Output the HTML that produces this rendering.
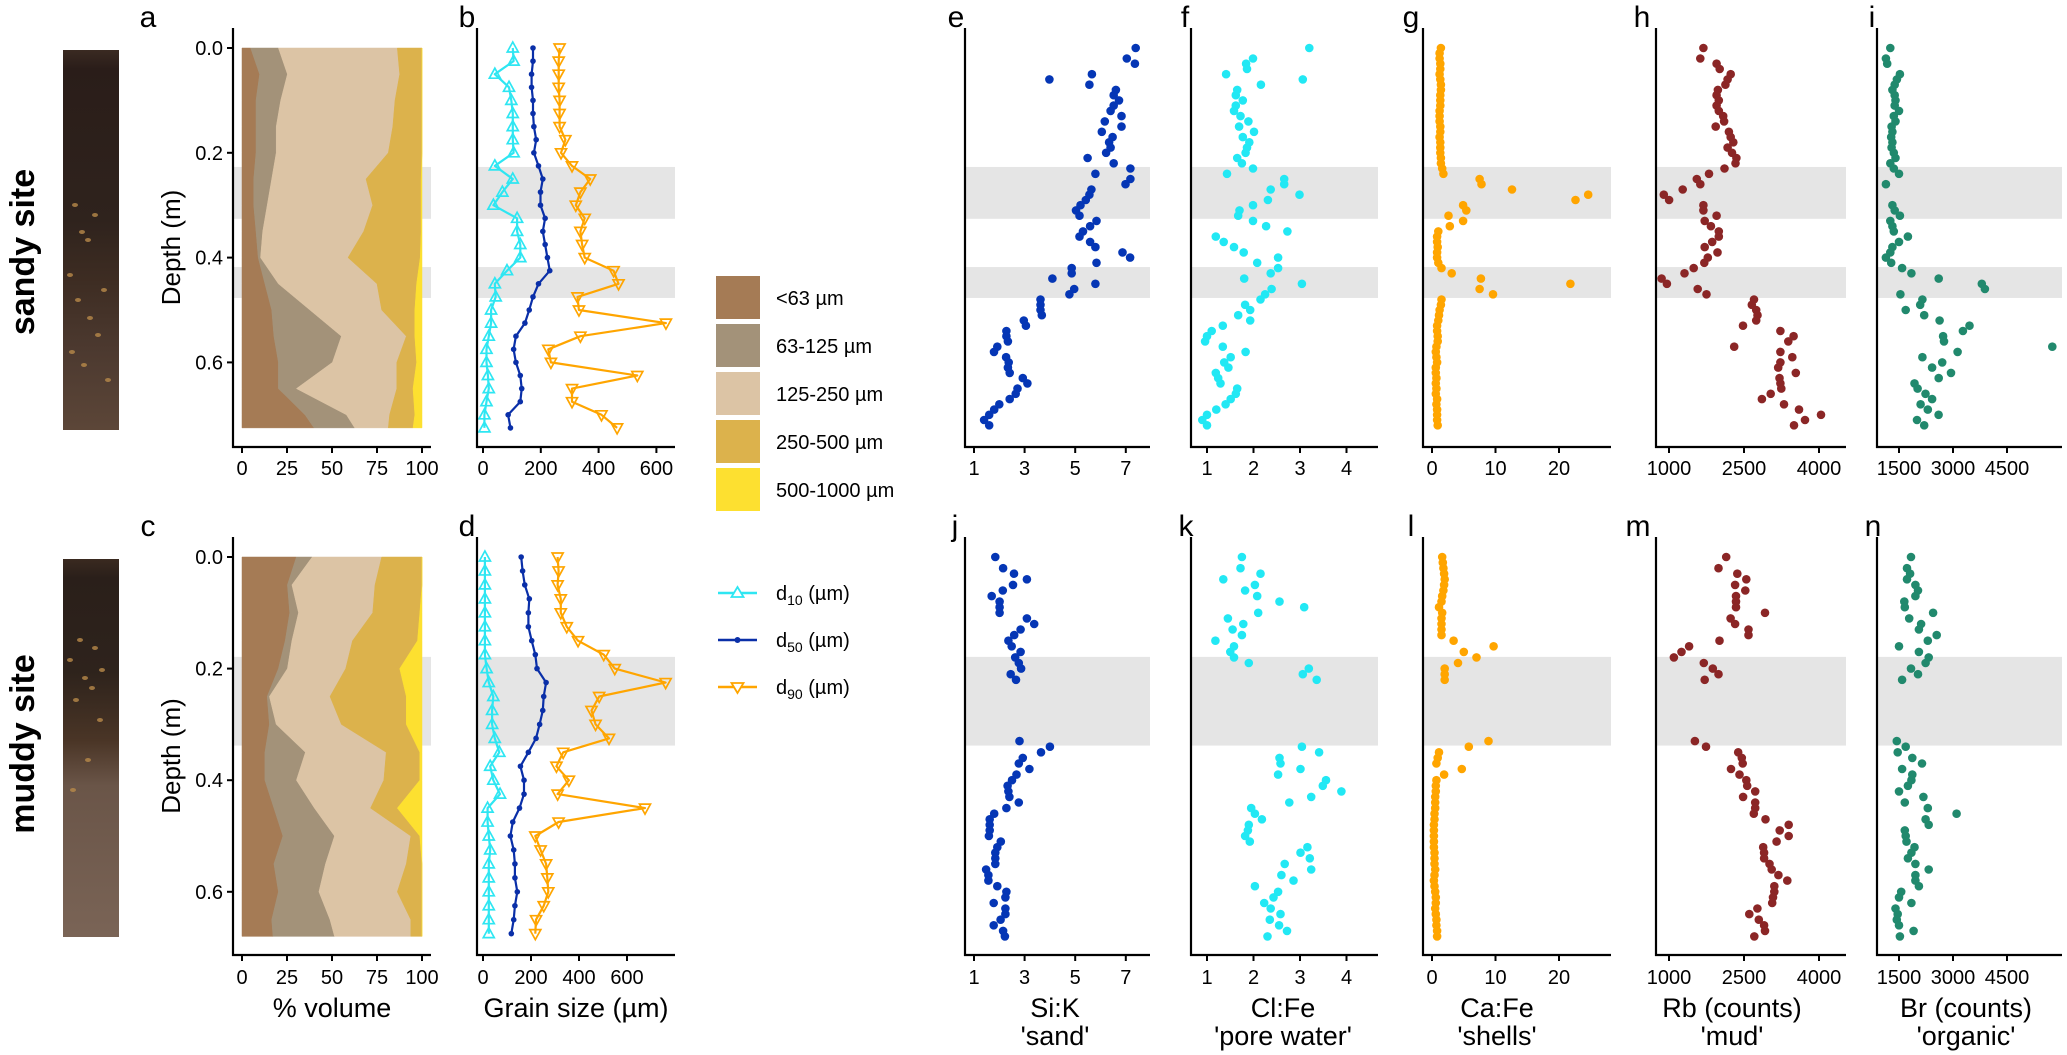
<!DOCTYPE html>
<html><head><meta charset="utf-8"><title>Sediment core figure</title>
<style>
html,body{margin:0;padding:0;background:#fff;}
svg{display:block;font-family:"Liberation Sans",Arial,sans-serif;}
</style></head>
<body>
<svg id="fig" width="2067" height="1055" viewBox="0 0 2067 1055" xmlns="http://www.w3.org/2000/svg">
<defs>
<linearGradient id="coreTop" x1="0" y1="0" x2="0" y2="1">
<stop offset="0" stop-color="#3a2a22"/><stop offset="0.05" stop-color="#2a1d19"/><stop offset="0.45" stop-color="#2f231d"/><stop offset="0.6" stop-color="#3d2c22"/><stop offset="0.8" stop-color="#4d3a30"/><stop offset="1" stop-color="#5c4638"/>
</linearGradient>
<linearGradient id="coreBot" x1="0" y1="0" x2="0" y2="1">
<stop offset="0" stop-color="#3a2a20"/><stop offset="0.05" stop-color="#2a1f1a"/><stop offset="0.3" stop-color="#2e231c"/><stop offset="0.48" stop-color="#4a3526"/><stop offset="0.6" stop-color="#6a5548"/><stop offset="1" stop-color="#7a6456"/>
</linearGradient>
</defs>
<rect x="0" y="0" width="2067" height="1055" fill="#fff"/>
<rect x="63" y="50" width="56" height="380" fill="url(#coreTop)"/>
<rect x="63" y="559" width="56" height="378" fill="url(#coreBot)"/>
<g><text x="34" y="252" transform="rotate(-90 34 252)" text-anchor="middle" font-size="34" font-weight="bold">sandy site</text></g>
<g><text x="34" y="744" transform="rotate(-90 34 744)" text-anchor="middle" font-size="34" font-weight="bold">muddy site</text></g>
<g id="plots"></g>
<g font-size="20">
<rect x="716" y="276" width="44" height="43" fill="#a57b55"/>
<text x="776" y="305">&lt;63 µm</text>
<rect x="716" y="324" width="44" height="43" fill="#a39279"/>
<text x="776" y="353">63-125 µm</text>
<rect x="716" y="372" width="44" height="43" fill="#dcc4a5"/>
<text x="776" y="401">125-250 µm</text>
<rect x="716" y="420" width="44" height="43" fill="#dcb24c"/>
<text x="776" y="449">250-500 µm</text>
<rect x="716" y="468" width="44" height="43" fill="#fde030"/>
<text x="776" y="497">500-1000 µm</text>
<line x1="718" y1="593" x2="757" y2="593" stroke="#2ee6f2" stroke-width="2.5"/>
<polygon points="737.5,587 731.5,597 743.5,597" fill="#fff" stroke="#2ee6f2" stroke-width="1.8"/>
<text x="776" y="600">d<tspan font-size="14" dy="5">10</tspan><tspan dy="-5"> (µm)</tspan></text>
<line x1="718" y1="640" x2="757" y2="640" stroke="#0a2fa8" stroke-width="2.5"/>
<circle cx="737.5" cy="640" r="3" fill="#0a2fa8"/>
<text x="776" y="647">d<tspan font-size="14" dy="5">50</tspan><tspan dy="-5"> (µm)</tspan></text>
<line x1="718" y1="687" x2="757" y2="687" stroke="#ffa500" stroke-width="2.5"/>
<polygon points="737.5,693 731.5,683 743.5,683" fill="#fff" stroke="#ffa500" stroke-width="1.8"/>
<text x="776" y="694">d<tspan font-size="14" dy="5">90</tspan><tspan dy="-5"> (µm)</tspan></text>
</g>
</svg>
<script>
// ---------- data ----------
const topDepth=[0,0.01,0.02,0.03,0.04,0.05,0.06,0.07,0.08,0.09,0.10,0.11,0.12,0.13,0.14,0.15,0.16,0.17,0.18,0.19,0.20,0.21,0.22,0.23,0.24,0.25,0.26,0.27,0.28,0.29,0.30,0.31,0.32,0.33,0.34,0.35,0.36,0.37,0.38,0.39,0.40,0.41,0.42,0.43,0.44,0.45,0.46,0.47,0.48,0.49,0.50,0.51,0.52,0.53,0.54,0.55,0.56,0.57,0.58,0.59,0.60,0.61,0.62,0.63,0.64,0.65,0.66,0.67,0.68,0.69,0.70,0.71,0.72];
const botDepth=[0,0.01,0.02,0.03,0.04,0.05,0.06,0.07,0.08,0.09,0.10,0.11,0.12,0.13,0.14,0.15,0.16,0.17,0.18,0.19,0.20,0.21,0.22,0.23,0.24,0.25,0.26,0.27,0.28,0.29,0.30,0.31,0.32,0.33,0.34,0.35,0.36,0.37,0.38,0.39,0.40,0.41,0.42,0.43,0.44,0.45,0.46,0.47,0.48,0.49,0.50,0.51,0.52,0.53,0.54,0.55,0.56,0.57,0.58,0.59,0.60,0.61,0.62,0.63,0.64,0.65,0.66,0.67,0.68];

const siKTop=[7.39,null,7.04,7.36,null,5.66,3.98,5.56,6.61,6.52,6.73,6.52,6.40,6.83,6.17,6.83,6.05,6.48,6.34,6.40,6.22,5.49,6.52,7.18,5.80,7.18,6.99,5.64,5.56,5.42,5.21,5.03,5.17,5.84,5.59,5.31,5.17,5.59,5.80,6.87,7.17,5.84,4.86,4.86,4.10,5.80,4.96,4.77,3.63,3.63,3.63,3.68,2.97,3.05,2.28,2.28,2.34,1.92,1.79,2.27,2.37,2.34,2.41,2.93,3.11,2.72,2.65,2.41,2.0,1.8,1.6,1.4,1.6];
const clFeTop=[3.20,null,1.99,1.84,1.86,1.41,3.06,2.16,1.65,1.62,1.77,1.62,1.58,1.72,1.89,1.69,2.01,1.77,1.91,1.86,1.83,1.65,1.75,1.99,1.43,2.66,2.66,2.37,2.99,2.31,1.99,1.70,1.67,1.99,2.27,2.73,1.19,1.36,1.58,1.79,2.53,2.08,2.53,2.37,1.80,3.04,2.39,2.25,2.15,1.82,1.93,1.67,1.93,1.34,1.10,1.00,0.96,1.34,1.83,1.51,1.37,1.46,1.19,1.24,1.29,1.65,1.62,1.51,1.4,1.2,1.0,0.9,1.0];
const caFeTop=[1.4,1.2,1.2,1.3,1.3,1.2,1.3,1.4,1.4,1.3,1.3,1.3,1.2,1.2,1.2,1.3,1.3,1.2,1.3,1.3,1.3,1.4,1.4,1.6,1.8,7.5,7.8,12.6,24.6,22.6,4.9,5.4,2.6,4.9,2.8,1.0,0.8,0.8,0.9,0.8,0.8,1.0,1.5,3.1,7.7,21.8,7.5,9.6,1.5,1.4,1.2,1.1,1.0,0.8,0.8,0.9,0.9,0.7,0.6,0.7,0.8,0.6,0.6,0.7,0.6,0.7,0.6,0.8,0.7,0.8,0.8,0.8,0.9];
const rbTop=[1688,null,1626,1952,2014,2234,2172,2128,1978,1952,1996,1952,1996,2084,2102,1934,2198,2234,2286,2172,2260,2348,2330,2110,1800,1556,1626,1274,896,1002,1688,1688,1952,1714,1838,1996,1996,1864,1714,1970,1776,1706,1494,1310,852,958,1574,1750,2700,2656,2744,2770,2744,2480,3228,3492,3386,2304,3228,3466,3228,3184,3536,3210,3228,3246,3034,2858,3300,3600,4040,3720,3500];
const brTop=[1257,null,1135,1171,null,1526,1441,1380,1318,1380,1404,1380,1501,1355,1404,1294,1318,1282,1318,1294,1355,1404,1257,1355,1501,null,1135,null,null,null,1318,1380,1526,1257,1318,1355,1746,1501,1318,1257,1135,1282,1587,1844,2602,3801,3887,1538,2150,2089,1685,2199,2627,3458,3275,2724,2749,5758,3128,2150,2700,2419,2945,2602,1930,2016,2236,2419,2100,2300,2600,2000,2200];

const siKBot=[1.84,null,2.15,2.58,3.09,2.54,2.14,1.70,2.01,2.01,2.01,3.09,3.38,2.84,2.59,2.36,2.49,2.84,2.63,2.77,2.86,2.45,2.66,null,null,null,null,null,null,null,null,null,null,2.80,4.00,3.65,2.93,2.77,3.19,2.68,2.50,2.33,2.36,2.40,2.77,2.28,1.80,1.62,1.62,1.62,1.59,2.06,1.92,1.84,1.84,1.84,1.48,1.57,1.57,1.92,2.28,2.24,1.78,2.24,2.24,2.05,1.78,2.15,2.22];
const clFeBot=[1.75,null,1.72,2.15,1.35,2.03,1.82,2.08,2.56,3.09,2.10,1.45,1.78,1.55,1.75,1.18,1.58,1.50,1.58,1.90,3.19,3.06,3.36,null,null,null,null,null,null,null,null,null,null,null,3.04,3.41,2.56,2.58,3.01,2.53,3.56,3.49,3.89,3.24,2.77,1.95,2.03,2.18,1.90,1.88,1.82,1.92,3.16,3.01,3.21,2.67,3.24,2.60,2.86,2.03,2.53,2.43,2.23,2.37,2.58,2.35,2.55,2.72,2.30];
const caFeBot=[1.6,1.7,1.8,1.9,2.0,1.9,1.8,1.6,1.5,1.1,1.6,1.5,1.5,1.5,1.5,3.4,9.7,5.0,7.0,4.1,2.0,2.0,2.0,null,null,null,null,null,null,null,null,null,null,8.9,5.8,1.1,0.9,0.7,4.7,1.9,0.7,0.6,0.6,0.5,0.5,0.5,0.4,0.4,0.3,0.3,0.3,0.3,0.3,0.4,0.4,0.4,0.5,0.4,0.3,0.4,0.5,0.6,0.6,0.5,0.6,0.7,0.7,0.8,0.8];
const rbBot=[2143,null,1991,2366,2545,2322,2527,2340,2340,2340,2920,2232,2322,2590,2590,2009,1402,1250,1098,1697,1875,1991,1714,null,null,null,null,null,null,null,null,null,null,1518,1741,2384,2456,2473,2241,2411,2545,2563,2724,2482,2724,2724,2697,2929,3393,3214,3393,3152,2884,2902,2902,3009,3054,3188,3366,3107,3107,3081,3063,2768,2607,2795,2902,2920,2706];
const brBot=[1832,null,1721,1808,1721,1955,2029,1955,1648,1660,2447,1783,2115,2054,2546,2300,1500,2054,2324,2238,1832,2029,1586,null,null,null,null,null,null,null,null,null,null,1439,1685,1463,1869,2140,1586,1869,1844,1746,1500,2177,1660,2300,3099,2238,2324,1660,1685,1709,1931,1844,1746,1955,2324,1955,1955,2054,1562,1500,1844,1402,1463,1439,1500,1906,1525];

const grainDepthTop=[0,0.025,0.05,0.075,0.1,0.125,0.15,0.175,0.2,0.225,0.25,0.275,0.3,0.325,0.35,0.375,0.4,0.425,0.45,0.475,0.5,0.525,0.55,0.575,0.6,0.625,0.65,0.675,0.7,0.725];
const d10Top=[103,106,41,90,98,103,103,103,106,41,103,67,36,118,118,129,129,83,41,44,28,28,20,12,12,17,20,12,5,5];
const d50Top=[173,173,168,168,173,173,176,184,176,192,207,199,199,215,207,215,223,231,192,173,160,145,114,106,114,129,134,129,87,95];
const d90Top=[265,262,262,262,265,265,265,285,270,308,371,337,321,352,337,343,352,452,469,327,332,633,337,226,235,534,308,308,410,464];
const grainDepthBot=[0,0.025,0.05,0.075,0.1,0.125,0.15,0.175,0.2,0.225,0.25,0.275,0.3,0.325,0.35,0.375,0.4,0.425,0.45,0.475,0.5,0.525,0.55,0.575,0.6,0.625,0.65,0.675];
const d10Bot=[8,8,8,8,8,8,8,8,15,24,43,38,38,49,68,30,43,71,19,19,24,30,24,24,24,24,24,24];
const d50Bot=[159,165,174,193,189,189,203,218,225,263,253,249,236,221,189,156,171,171,152,124,114,128,133,133,143,133,128,118];
const d90Bot=[311,315,311,324,324,349,396,503,549,761,484,452,469,525,334,306,358,311,675,315,218,240,263,268,272,253,221,218];

const areaDepthTop=[0,0.05,0.1,0.15,0.2,0.25,0.3,0.35,0.4,0.45,0.5,0.55,0.6,0.65,0.7,0.725];
const lt63Top=[4.8,9.8,7.8,7.8,7.8,6.5,6.5,7.8,9,12.7,16.5,17.7,20.2,20.2,35,40];
const c63Top=[15.4,15.4,13.7,11.2,11.2,10,7.5,3.7,1.3,7.5,21.2,37.5,30,10,23,22.6];
const c125Top=[66.1,62.4,63.5,64.8,62.3,52.4,58.6,56.1,48.6,54.8,39.9,36.1,35.8,55.8,24,18.7];
const c250Top=[13.7,12.4,15,16.2,18.7,30.6,26.9,31.9,40.1,22,18.4,4.7,11,9,14,13.7];
const c500Top=[0,0,0,0,0,0.5,0.5,0.5,1,3,4,4,3,5,4,5];
const areaDepthBot=[0,0.05,0.1,0.15,0.2,0.25,0.3,0.35,0.4,0.45,0.5,0.55,0.6,0.65,0.68];
const lt63Bot=[30.2,25.2,26.5,24,20.2,14,15.2,12.7,12.7,17.7,22.7,17.7,20.2,16.5,17.2];
const c63Bot=[8.8,2.5,4.9,3.7,5,1.2,3.8,22.5,17.5,22.5,28.7,28.7,22.5,32.4,34.2];
const c125Bot=[38.6,46.2,41.2,33.7,32.4,33.7,36.2,44.9,48.6,31.2,42.4,44.9,43.6,44.9,42.4];
const c250Bot=[22.4,26.1,26.2,36.1,30,42.4,36.1,18.7,20,14.9,5,8.7,13.7,6.2,6.2];
const c500Bot=[0,0,1.2,2.5,12.4,8.7,8.7,1.2,1.2,13.7,1.2,0,0,0,0];

const ticksDepth=[0,0.2,0.4,0.6];
const tickLabelsDepth=["0.0","0.2","0.4","0.6"];
const ticksPct=[0,25,50,75,100];
const ticksGrain=[0,200,400,600];
const ticksSiK=[1,3,5,7];
const ticksClFe=[1,2,3,4];
const ticksCaFe=[0,10,20];
const ticksRb=[1000,2500,4000];
const ticksBr=[1500,3000,4500];
const bandsTop=[[0.227,0.326],[0.418,0.477]];
const bandsBot=[[0.179,0.338]];

// ---------- layout ----------
const NS="http://www.w3.org/2000/svg";
const root=document.getElementById("plots");
function mk(tag,attrs,parent){const e=document.createElementNS(NS,tag);for(const k in attrs)e.setAttribute(k,attrs[k]);(parent||root).appendChild(e);return e;}
const rows={
 top:{axisTop:28,axisY:447,d0:48,k:524,labY:475,bands:bandsTop},
 bot:{axisTop:537,axisY:955,d0:557,k:558,labY:984,bands:bandsBot}
};
function yScale(row,d){return row.d0+d*row.k;}
function makeX(axisX,endX,v0,x0,k){return {axisX,endX,f:v=>x0+(v-v0)*k};}
const cols={
 a:makeX(233,431,0,242,1.8),
 b:makeX(477,675,0,483,0.289),
 d:makeX(477,675,0,483,0.24),
 e:makeX(965,1150,1,974,25.3),
 f:makeX(1191,1378,1,1207,46.5),
 g:makeX(1423,1611,0,1432,6.35),
 h:makeX(1656,1846,1000,1669,0.05),
 i:makeX(1877,2062,1500,1899,0.036)
};

function frame(name,col,row,ticks,tickLabels,letter,letterX,title1,title2,titleX,depthAxis){
 const g=mk("g",{});
 
 
 row.bands.forEach(b=>{
  const r=mk("rect",{x:col.axisX+1,y:yScale(row,b[0]),width:col.endX-col.axisX-1,height:yScale(row,b[1])-yScale(row,b[0]),fill:"#e5e5e5"},g);
  
  
 });
 const lt=mk("text",{x:letterX,y:row.axisTop-1,"font-size":30,"text-anchor":"middle"},g);
 lt.textContent=letter;
 
 
 if(title1){
  const t1=mk("text",{x:titleX,y:row.labY+33,"font-size":27,"text-anchor":"middle"},g);
  t1.textContent=title1;
  
  
 }
 if(title2){
  const t2=mk("text",{x:titleX,y:row.labY+61,"font-size":27,"text-anchor":"middle"},g);
  t2.textContent=title2;
  
  
 }
 if(depthAxis){
  ticksDepth.forEach((d,i)=>{
   const yy=yScale(row,d);
   const tk=mk("line",{x1:col.axisX-6,y1:yy,x2:col.axisX,y2:yy,stroke:"#000","stroke-width":2},g);
   
   
   const tl=mk("text",{x:col.axisX-10,y:yy+7,"font-size":20,"text-anchor":"end"},g);
   tl.textContent=tickLabelsDepth[i];
   
   
  });
  const mid=(row.axisTop+row.axisY)/2+10;
  const yt=mk("text",{x:180,y:mid,"font-size":26,"text-anchor":"middle",transform:"rotate(-90 180 "+mid+")"},g);
  yt.textContent="Depth (m)";
  
  
 }
 return g;
}
function axes(name,col,row,ticks,tickLabels,g){
 const ya=mk("line",{x1:col.axisX,y1:row.axisTop,x2:col.axisX,y2:row.axisY+1,stroke:"#000","stroke-width":2.2},g);
 
 
 const xa=mk("line",{x1:col.axisX-1,y1:row.axisY,x2:col.endX,y2:row.axisY,stroke:"#000","stroke-width":2.2},g);
 
 
 ticks.forEach((v,i)=>{
  const xx=col.f(v);
  const tk=mk("line",{x1:xx,y1:row.axisY,x2:xx,y2:row.axisY+6,stroke:"#000","stroke-width":2},g);
  
  
  const tl=mk("text",{x:xx,y:row.labY,"font-size":20,"text-anchor":"middle"},g);
  tl.textContent=tickLabels?tickLabels[i]:String(v);
  
  
 });
}
function areaPanel(name,col,row,depths,classes,colors,letter,title){
 const g=frame(name,col,row,ticksPct,null,letter,148,title,null,332,true);
 const cum=depths.map(()=>0);
 classes.forEach((arr,ci)=>{
  const lower=cum.slice();
  arr.forEach((v,i)=>{cum[i]+=v;});
  let pts=[];
  depths.forEach((d,i)=>pts.push(col.f(cum[i]).toFixed(1)+","+yScale(row,d).toFixed(1)));
  for(let i=depths.length-1;i>=0;i--)pts.push(col.f(lower[i]).toFixed(1)+","+yScale(row,depths[i]).toFixed(1));
  const p=mk("polygon",{points:pts.join(" "),fill:colors[ci],stroke:colors[ci],"stroke-width":0.5},g);
  
  
 });
 axes(name,col,row,ticksPct,null,g);
}
const areaColors=["#a57b55","#a39279","#dcc4a5","#dcb24c","#fde030"];
areaPanel("panel-a",cols.a,rows.top,areaDepthTop,[lt63Top,c63Top,c125Top,c250Top,c500Top],areaColors,"a",null);
areaPanel("panel-c",cols.a,rows.bot,areaDepthBot,[lt63Bot,c63Bot,c125Bot,c250Bot,c500Bot],areaColors,"c","% volume");

function grainPanel(name,col,row,depths,s10,s50,s90,letter,title){
 const g=frame(name,col,row,ticksGrain,null,letter,467,title,null,576,false);
 const series=[[s10,"#2ee6f2","up","d10"],[s50,"#0a2fa8","dot","d50"],[s90,"#ffa500","down","d90"]];
 series.forEach(([arr,color,mark,key])=>{
  const pts=arr.map((v,i)=>col.f(v).toFixed(1)+","+yScale(row,depths[i]).toFixed(1)).join(" ");
  const pl=mk("polyline",{points:pts,fill:"none",stroke:color,"stroke-width":2.2,"stroke-linejoin":"round"},g);
  
  
  arr.forEach((v,i)=>{
   const cx=col.f(v),cy=yScale(row,depths[i]);
   let m;
   if(mark==="dot"){m=mk("circle",{cx:cx,cy:cy,r:2.8,fill:color},g);}
   else if(mark==="up"){m=mk("polygon",{points:`${cx},${cy-6} ${cx-5.5},${cy+4} ${cx+5.5},${cy+4}`,fill:"none",stroke:color,"stroke-width":1.7},g);}
   else{m=mk("polygon",{points:`${cx},${cy+6} ${cx-5.5},${cy-4} ${cx+5.5},${cy-4}`,fill:"none",stroke:color,"stroke-width":1.7},g);}
   
   
  });
 });
 axes(name,col,row,ticksGrain,null,g);
}
grainPanel("panel-b",cols.b,rows.top,grainDepthTop,d10Top,d50Top,d90Top,"b",null);
grainPanel("panel-d",cols.d,rows.bot,grainDepthBot,d10Bot,d50Bot,d90Bot,"d","Grain size (µm)");

function scatterPanel(name,col,row,depths,vals,color,ticks,letter,letterX,t1,t2,titleX){
 const g=frame(name,col,row,ticks,null,letter,letterX,t1,t2,titleX,false);
 vals.forEach((v,i)=>{
  if(v===null)return;
  const c=mk("circle",{cx:col.f(v).toFixed(1),cy:yScale(row,depths[i]).toFixed(1),r:4.3,fill:color},g);
  
  
 });
 axes(name,col,row,ticks,null,g);
}
const cBlue="#0536b5",cCyan="#22e8f4",cOrange="#ffa500",cRed="#8b2626",cGreen="#21896d";
scatterPanel("panel-e",cols.e,rows.top,topDepth,siKTop,cBlue,ticksSiK,"e",956,null,null,0);
scatterPanel("panel-f",cols.f,rows.top,topDepth,clFeTop,cCyan,ticksClFe,"f",1185,null,null,0);
scatterPanel("panel-g",cols.g,rows.top,topDepth,caFeTop,cOrange,ticksCaFe,"g",1411,null,null,0);
scatterPanel("panel-h",cols.h,rows.top,topDepth,rbTop,cRed,ticksRb,"h",1642,null,null,0);
scatterPanel("panel-i",cols.i,rows.top,topDepth,brTop,cGreen,ticksBr,"i",1872,null,null,0);
scatterPanel("panel-j",cols.e,rows.bot,botDepth,siKBot,cBlue,ticksSiK,"j",955,"Si:K","'sand'",1055);
scatterPanel("panel-k",cols.f,rows.bot,botDepth,clFeBot,cCyan,ticksClFe,"k",1186,"Cl:Fe","'pore water'",1283);
scatterPanel("panel-l",cols.g,rows.bot,botDepth,caFeBot,cOrange,ticksCaFe,"l",1411,"Ca:Fe","'shells'",1497);
scatterPanel("panel-m",cols.h,rows.bot,botDepth,rbBot,cRed,ticksRb,"m",1638,"Rb (counts)","'mud'",1732);
scatterPanel("panel-n",cols.i,rows.bot,botDepth,brBot,cGreen,ticksBr,"n",1873,"Br (counts)","'organic'",1966);

// core photo texture (decorative speckles)
const speckTop=[[75,205],[95,215],[82,232],[88,240],[70,275],[104,290],[78,300],[90,318],[98,335],[72,352],[84,365],[108,380]];
const speckBot=[[80,640],[95,648],[70,660],[102,670],[85,678],[92,688],[76,700],[100,720],[88,760],[73,790]];
[[speckTop,"sandy"],[speckBot,"muddy"]].forEach(([arr,nm])=>{
 arr.forEach(p=>{
  const s=mk("ellipse",{cx:p[0],cy:p[1],rx:3,ry:2,fill:"#b88a4a",opacity:0.8});
  
  
 });
});
</script>
</body></html>
